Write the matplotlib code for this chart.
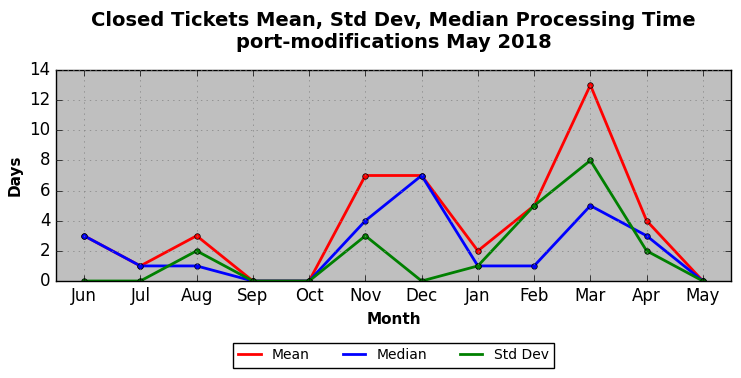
import matplotlib
matplotlib.use('Agg')
import matplotlib.pyplot as plt

months = ['Jun', 'Jul', 'Aug', 'Sep', 'Oct', 'Nov', 'Dec', 'Jan', 'Feb', 'Mar', 'Apr', 'May']
mean = [3, 1, 3, 0, 0, 7, 7, 2, 5, 13, 4, 0]
median = [3, 1, 1, 0, 0, 4, 7, 1, 1, 5, 3, 0]
std_dev = [0, 0, 2, 0, 0, 3, 0, 1, 5, 8, 2, 0]

plt.style.use('classic')
fig = plt.figure(figsize=(7.41, 3.78), dpi=100)
ax = fig.add_axes([56 / 741, 1 - 281 / 378, 675 / 741, 211 / 378])
ax.set_facecolor('#bfbfbf')

x = list(range(len(months)))
ax.plot(x, mean, color='red', lw=2, marker='o', ms=4, mec='black', mew=0.5, label='Mean')
ax.plot(x, median, color='blue', lw=2, marker='o', ms=4, mec='black', mew=0.5, label='Median')
ax.plot(x, std_dev, color='green', lw=2, marker='o', ms=4, mec='black', mew=0.5, label='Std Dev')

ax.set_xlim(-0.5, 11.5)
ax.set_ylim(0, 14)
ax.set_xticks(x)
ax.set_xticklabels(months)
ax.grid(True, color='gray', linestyle=':')
ax.set_xlabel('Month', fontweight='bold', fontsize=11)
ax.set_ylabel('Days', fontweight='bold', fontsize=11)
fig.suptitle('Closed Tickets Mean, Std Dev, Median Processing Time\nport-modifications May 2018',
             fontweight='bold', fontsize=14, x=(56 + 337.5) / 741, y=0.972)

leg = ax.legend(loc='upper center', bbox_to_anchor=(0.5, -0.26), ncol=3, fontsize=10,
                numpoints=1, handlelength=1.6, columnspacing=2.4)
for h in leg.get_lines():
    h.set_marker('')

fig.savefig('out.png', dpi=100)
